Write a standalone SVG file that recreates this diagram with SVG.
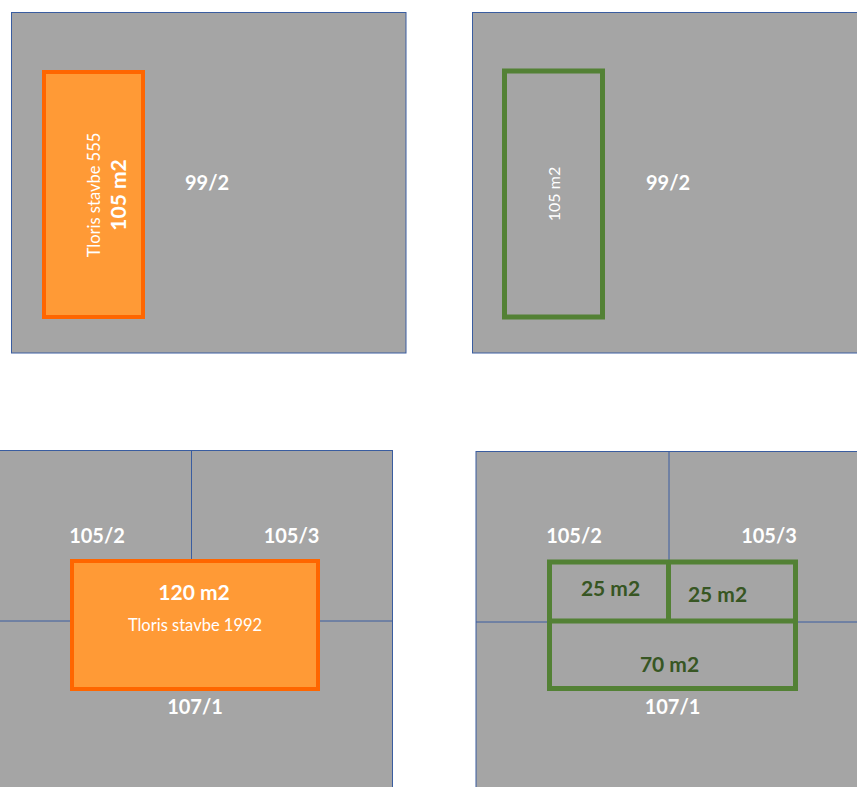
<svg xmlns="http://www.w3.org/2000/svg" width="857" height="787" viewBox="0 0 857 787">
<style>
.parcel{fill:#A5A5A5;stroke:#3A5DA0;stroke-width:1}
.div{stroke:#3A5DA0;stroke-width:1;fill:none}
.old{fill:#FF9A36;stroke:#FF6600;stroke-width:4}
.new{fill:none;stroke:#538135;stroke-width:5}
.lbl{font-family:Lato,"Liberation Sans",sans-serif;font-weight:bold;font-size:20px;fill:#FFFFFF;text-anchor:middle}
.area{font-family:Lato,"Liberation Sans",sans-serif;font-weight:bold;font-size:21px;fill:#FFFFFF;text-anchor:middle}
.note{font-family:Lato,"Liberation Sans",sans-serif;font-size:16.5px;fill:#FFFFFF;text-anchor:middle}
.garea{font-family:Lato,"Liberation Sans",sans-serif;font-weight:bold;font-size:21px;fill:#375623;text-anchor:middle}
</style>
<rect width="857" height="787" fill="#FFFFFF"/>

<g id="panel1">
  <rect class="parcel" x="11.5" y="12.5" width="394.5" height="340.5"/>
  <text class="lbl" x="207" y="190">99/2</text>
  <g id="building555">
    <rect class="old" x="44" y="72" width="99" height="245"/>
    <text class="note" transform="translate(99.5,195) rotate(-90)" x="0" y="0">Tloris stavbe 555</text>
    <text class="area" transform="translate(126,195) rotate(-90)" x="0" y="0">105 m2</text>
  </g>
</g>

<g id="panel2">
  <rect class="parcel" x="472.5" y="12.5" width="390" height="340.5"/>
  <text class="lbl" x="668" y="190">99/2</text>
  <g id="building105">
    <rect class="new" x="504.5" y="71" width="98" height="246"/>
    <text class="note" style="font-size:16px" transform="translate(559.5,194) rotate(-90)" x="0" y="0">105 m2</text>
  </g>
</g>

<g id="panel3">
  <rect class="parcel" x="-5" y="450.5" width="397.5" height="345"/>
  <g id="dividers3">
    <line class="div" x1="191.5" y1="450.5" x2="191.5" y2="621"/>
    <line class="div" x1="-5" y1="621" x2="392.5" y2="621"/>
  </g>
  <text class="lbl" x="97" y="543">105/2</text>
  <text class="lbl" x="291.5" y="543">105/3</text>
  <g id="building1992">
    <rect class="old" x="72" y="561" width="246" height="128"/>
    <text class="area" x="194" y="600">120 m2</text>
    <text class="note" x="195" y="631">Tloris stavbe 1992</text>
  </g>
  <text class="lbl" x="195" y="714">107/1</text>
</g>

<g id="panel4">
  <rect class="parcel" x="476" y="451.5" width="390" height="345"/>
  <g id="dividers4">
    <line class="div" x1="669" y1="451.5" x2="669" y2="622"/>
    <line class="div" x1="476" y1="622" x2="866" y2="622"/>
  </g>
  <text class="lbl" x="574" y="543">105/2</text>
  <text class="lbl" x="769" y="543">105/3</text>
  <g id="split">
    <rect class="new" x="549.5" y="562" width="246" height="126.5"/>
    <line class="new" x1="668.5" y1="562" x2="668.5" y2="621"/>
    <line class="new" x1="549.5" y1="621" x2="795.5" y2="621"/>
    <text class="garea" x="610.5" y="596">25 m2</text>
    <text class="garea" x="717.5" y="602">25 m2</text>
    <text class="garea" x="669.5" y="672">70 m2</text>
  </g>
  <text class="lbl" x="672.5" y="714">107/1</text>
</g>
</svg>
